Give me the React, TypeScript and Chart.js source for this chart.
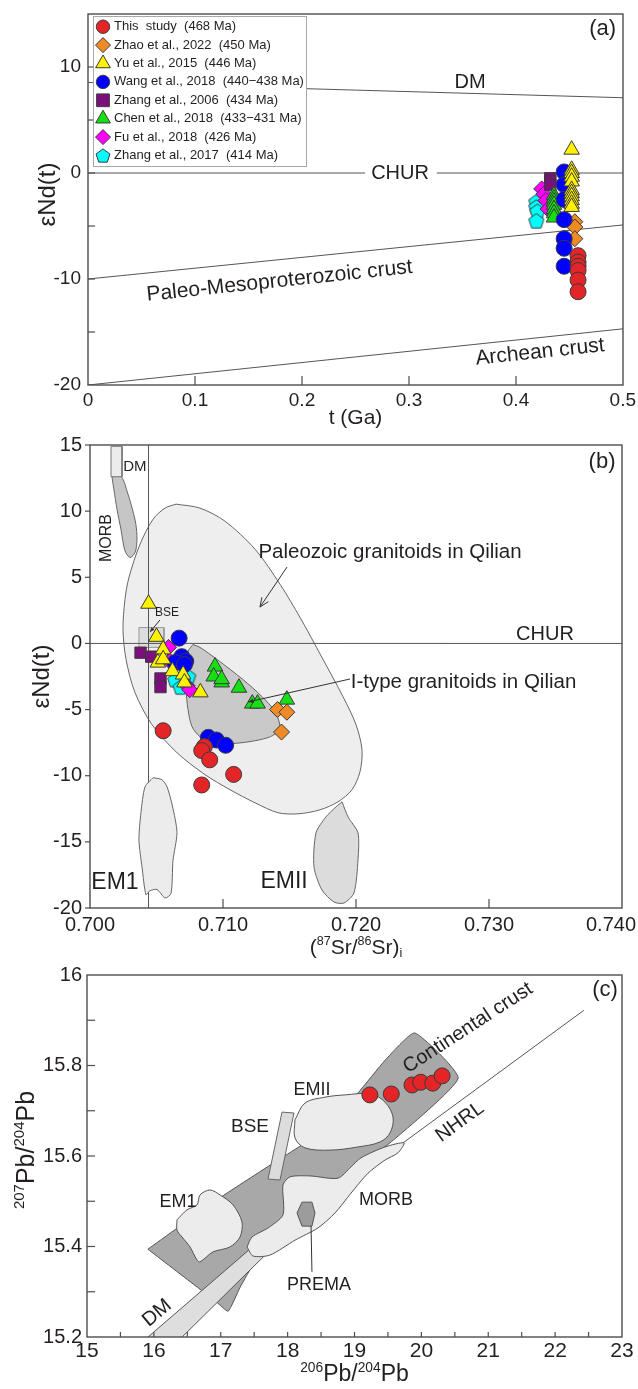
import React, { useEffect, useRef } from "react";
import { Chart, registerables } from "chart.js";

Chart.register(...registerables);

const FONT = 'Arial, "Liberation Sans", Helvetica, sans-serif';
const INK = "#231f20";
const AXIS = "#4d4d4d";
const EDGE = "#3a3a3a";

type P = { x: number; y: number };
type Part = { t: string; sup?: boolean; sub?: boolean };

// ---------------- series (shared legend) ----------------
const SERIES_LABELS = [
  "This  study  (468 Ma)",
  "Zhao et al., 2022  (450 Ma)",
  "Yu et al., 2015  (446 Ma)",
  "Wang et al., 2018  (440\u2212438 Ma)",
  "Zhang et al., 2006  (434 Ma)",
  "Chen et al., 2018  (433\u2212431 Ma)",
  "Fu et al., 2018  (426 Ma)",
  "Zhang et al., 2017  (414 Ma)",
];
const SERIES_COLORS = ["#e42528", "#ef8a25", "#fff200", "#0000ff", "#7b0f7b", "#14e014", "#ff00ff", "#00ffff"];
const SERIES_STYLES = ["circle", "rectRot", "triangle", "circle", "rect", "triangle", "rectRot", "pentagon"];
const DRAW_ORDER = [7, 6, 4, 5, 1, 3, 2, 0];

// ---------------- panel (a): eNd(t) vs t (Ga) ----------------
const A_X_LABELS = [0, 0.1, 0.2, 0.3, 0.4, 0.5];
const A_Y_LABELS = [-20, -10, 0, 10];
const A_X_TICKS = [0.1, 0.2, 0.3, 0.4];
const A_Y_TICKS = [-15, -10, -5, 0, 5, 10];
const A_DM: P[] = [{ x: 0, y: 8.54 }, { x: 0.5, y: 7.1 }];
const A_CHUR_L: P[] = [{ x: 0, y: 0 }, { x: 0.259, y: 0 }];
const A_CHUR_R: P[] = [{ x: 0.326, y: 0 }, { x: 0.5, y: 0 }];
const A_PALEO: P[] = [{ x: 0, y: -10 }, { x: 0.5, y: -4.9 }];
const A_ARCH: P[] = [{ x: 0, y: -20 }, { x: 0.5, y: -14.7 }];

const A_THIS: P[] = [
  { x: 0.458, y: -7.8 }, { x: 0.458, y: -8.4 }, { x: 0.458, y: -8.8 },
  { x: 0.458, y: -9.2 }, { x: 0.458, y: -10.1 }, { x: 0.458, y: -11.2 },
];
const A_ZHAO: P[] = [{ x: 0.455, y: -4.6 }, { x: 0.455, y: -5.1 }, { x: 0.455, y: -6.2 }];
const A_YU: P[] = [
  { x: 0.452, y: 2.2 }, { x: 0.452, y: 0.3 }, { x: 0.452, y: 0.0 }, { x: 0.452, y: -0.35 },
  { x: 0.452, y: -0.8 }, { x: 0.452, y: -1.6 }, { x: 0.452, y: -1.9 }, { x: 0.452, y: -2.2 },
  { x: 0.452, y: -2.55 }, { x: 0.452, y: -2.9 }, { x: 0.452, y: -3.2 },
];
const A_WANG: P[] = [
  { x: 0.445, y: 0.1 }, { x: 0.445, y: -1.1 }, { x: 0.445, y: -2.5 }, { x: 0.445, y: -4.4 },
  { x: 0.445, y: -6.2 }, { x: 0.445, y: -7.1 }, { x: 0.445, y: -8.8 },
];
const A_ZHANG06: P[] = [{ x: 0.432, y: -0.5 }, { x: 0.432, y: -0.8 }, { x: 0.432, y: -1.1 }];
const A_CHEN: P[] = [
  { x: 0.4355, y: -2.1 }, { x: 0.4355, y: -2.4 }, { x: 0.4355, y: -2.7 }, { x: 0.4355, y: -3.0 },
  { x: 0.4355, y: -3.4 }, { x: 0.4355, y: -3.8 }, { x: 0.4355, y: -4.2 },
];
const A_FU: P[] = [{ x: 0.424, y: -1.5 }, { x: 0.426, y: -2.0 }, { x: 0.428, y: -2.6 }, { x: 0.43, y: -3.4 }];
const A_ZHANG17: P[] = [{ x: 0.419, y: -2.7 }, { x: 0.419, y: -3.2 }, { x: 0.42, y: -3.6 }, { x: 0.419, y: -4.5 }];

// ---------------- panel (b): eNd(t) vs (87Sr/86Sr)i ----------------
const B_X_LABELS = [0.7, 0.71, 0.72, 0.73, 0.74];
const B_Y_LABELS = [15, 10, 5, 0, -5, -10, -15, -20];
const B_X_TICKS = [0.71, 0.72, 0.73];
const B_CHUR: P[] = [{ x: 0.7, y: 0 }, { x: 0.74, y: 0 }];
const B_BSE_LINE: P[] = [{ x: 0.7044, y: -20 }, { x: 0.7044, y: 15 }];
const B_PALEOZOIC: P[] = [
  { x: 0.70647, y: 10.53 }, { x: 0.70827, y: 10.23 }, { x: 0.71015, y: 9.24 }, { x: 0.71241, y: 7.12 },
  { x: 0.71429, y: 4.47 }, { x: 0.71579, y: 1.97 }, { x: 0.71744, y: -1.06 }, { x: 0.71902, y: -4.02 },
  { x: 0.72, y: -6.14 }, { x: 0.72045, y: -8.03 }, { x: 0.7203, y: -9.7 }, { x: 0.7197, y: -11.06 },
  { x: 0.71865, y: -11.97 }, { x: 0.71729, y: -12.58 }, { x: 0.71564, y: -12.88 }, { x: 0.71414, y: -12.8 },
  { x: 0.71241, y: -12.05 }, { x: 0.71053, y: -11.06 }, { x: 0.70865, y: -9.92 }, { x: 0.70654, y: -8.26 },
  { x: 0.70466, y: -6.14 }, { x: 0.70338, y: -3.71 }, { x: 0.70271, y: -1.21 }, { x: 0.70248, y: 1.06 },
  { x: 0.70263, y: 3.33 }, { x: 0.70293, y: 5.0 }, { x: 0.70376, y: 7.5 }, { x: 0.70474, y: 9.39 },
  { x: 0.70564, y: 10.23 },
];
const B_ITYPE: P[] = [
  { x: 0.70774, y: -0.08 }, { x: 0.70827, y: -0.3 }, { x: 0.70955, y: -1.21 }, { x: 0.7115, y: -2.73 },
  { x: 0.71293, y: -4.02 }, { x: 0.71391, y: -5.15 }, { x: 0.71429, y: -6.29 }, { x: 0.71406, y: -6.74 },
  { x: 0.71338, y: -7.12 }, { x: 0.71203, y: -7.42 }, { x: 0.71038, y: -7.58 }, { x: 0.70902, y: -7.42 },
  { x: 0.70827, y: -7.05 }, { x: 0.70767, y: -6.29 }, { x: 0.70737, y: -5.0 }, { x: 0.70722, y: -3.48 },
  { x: 0.70722, y: -1.82 }, { x: 0.70737, y: -0.61 },
];
const B_MORB: P[] = [
  { x: 0.70165, y: 12.6 }, { x: 0.70235, y: 12.6 }, { x: 0.70285, y: 11.3 }, { x: 0.7032, y: 10.1 },
  { x: 0.70345, y: 9.0 }, { x: 0.70353, y: 7.9 }, { x: 0.7034, y: 6.9 }, { x: 0.70301, y: 6.5 },
  { x: 0.70263, y: 7.0 }, { x: 0.70233, y: 8.6 }, { x: 0.70203, y: 10.15 }, { x: 0.7018, y: 11.6 },
];
const B_DM: P[] = [{ x: 0.70158, y: 14.9 }, { x: 0.70241, y: 14.9 }, { x: 0.70241, y: 12.6 }, { x: 0.70158, y: 12.6 }];
const B_BSE: P[] = [{ x: 0.70368, y: 1.2 }, { x: 0.70556, y: 1.2 }, { x: 0.70556, y: -0.3 }, { x: 0.70368, y: -0.3 }];
const B_EM1: P[] = [
  { x: 0.70474, y: -10.15 }, { x: 0.7054, y: -10.3 }, { x: 0.70579, y: -10.83 }, { x: 0.7062, y: -12.3 },
  { x: 0.70654, y: -14.3 }, { x: 0.70624, y: -16.4 }, { x: 0.70609, y: -18.9 }, { x: 0.70564, y: -19.24 },
  { x: 0.70504, y: -18.6 }, { x: 0.7045, y: -18.7 }, { x: 0.70421, y: -19.0 }, { x: 0.70391, y: -16.9 },
  { x: 0.70368, y: -14.85 }, { x: 0.70383, y: -12.8 }, { x: 0.70414, y: -10.83 },
];
const B_EM2: P[] = [
  { x: 0.71895, y: -11.97 }, { x: 0.7194, y: -13.11 }, { x: 0.72015, y: -14.32 }, { x: 0.72015, y: -16.36 },
  { x: 0.71985, y: -18.86 }, { x: 0.7191, y: -19.62 }, { x: 0.71835, y: -19.55 }, { x: 0.71744, y: -18.64 },
  { x: 0.71684, y: -16.89 }, { x: 0.71699, y: -14.32 }, { x: 0.71774, y: -13.11 }, { x: 0.7185, y: -12.35 },
];

const B_THIS: P[] = [
  { x: 0.7055, y: -6.6 }, { x: 0.7086, y: -7.8 }, { x: 0.7084, y: -8.1 },
  { x: 0.709, y: -8.8 }, { x: 0.7108, y: -9.9 }, { x: 0.7084, y: -10.7 },
];
const B_ZHAO: P[] = [{ x: 0.7141, y: -5.0 }, { x: 0.7148, y: -5.2 }, { x: 0.7144, y: -6.7 }];
const B_YU: P[] = [
  { x: 0.7044, y: 3.0 }, { x: 0.705, y: 0.5 }, { x: 0.7055, y: -0.45 }, { x: 0.7051, y: -1.45 },
  { x: 0.7055, y: -1.2 }, { x: 0.7062, y: -2.1 }, { x: 0.707, y: -2.35 }, { x: 0.7071, y: -2.95 },
  { x: 0.7083, y: -3.7 },
];
const B_WANG: P[] = [
  { x: 0.7067, y: 0.4 }, { x: 0.7069, y: -1.0 }, { x: 0.7072, y: -1.35 }, { x: 0.7064, y: -1.45 },
  { x: 0.7071, y: -1.6 }, { x: 0.7089, y: -7.1 }, { x: 0.7095, y: -7.3 }, { x: 0.7102, y: -7.7 },
];
const B_ZHANG06: P[] = [{ x: 0.7038, y: -0.7 }, { x: 0.7046, y: -1.0 }, { x: 0.7053, y: -2.65 }, { x: 0.7053, y: -3.3 }];
const B_CHEN: P[] = [
  { x: 0.7094, y: -1.75 }, { x: 0.7093, y: -2.5 }, { x: 0.7099, y: -2.95 }, { x: 0.7099, y: -2.7 },
  { x: 0.7112, y: -3.35 }, { x: 0.7122, y: -4.55 }, { x: 0.7126, y: -4.55 }, { x: 0.7148, y: -4.25 },
];
const B_FU: P[] = [{ x: 0.7059, y: -0.3 }, { x: 0.706, y: -1.35 }, { x: 0.7073, y: -3.2 }, { x: 0.7075, y: -3.5 }];
const B_ZHANG17: P[] = [{ x: 0.7064, y: -2.75 }, { x: 0.7068, y: -3.3 }, { x: 0.7074, y: -2.5 }];

// ---------------- panel (c): 207Pb/204Pb vs 206Pb/204Pb ----------------
const C_X_LABELS = [15, 16, 17, 18, 19, 20, 21, 22, 23];
const C_Y_LABELS = [15.2, 15.4, 15.6, 15.8, 16];
const C_X_TICKS = [15.5, 16, 16.5, 17, 17.5, 18, 18.5, 19, 19.5, 20, 20.5, 21, 21.5, 22, 22.5];
const C_Y_TICKS = [15.3, 15.4, 15.5, 15.6, 15.7, 15.8, 15.9];
const C_NHRL: P[] = [{ x: 18.6, y: 15.507 }, { x: 22.43, y: 15.922 }];
const C_CRUST: P[] = [
  { x: 15.91, y: 15.394 }, { x: 16.94, y: 15.503 }, { x: 17.74, y: 15.58 }, { x: 18.48, y: 15.651 },
  { x: 19.05, y: 15.739 }, { x: 19.46, y: 15.812 }, { x: 19.9, y: 15.872 }, { x: 20.55, y: 15.772 },
  { x: 19.58, y: 15.635 }, { x: 18.78, y: 15.547 }, { x: 18.04, y: 15.454 }, { x: 17.51, y: 15.366 },
  { x: 17.29, y: 15.31 }, { x: 17.11, y: 15.257 }, { x: 16.94, y: 15.277 }, { x: 16.65, y: 15.31 },
];
const C_DM: P[] = [{ x: 15.52, y: 15.15 }, { x: 16.08, y: 15.15 }, { x: 17.89, y: 15.414 }, { x: 17.56, y: 15.41 }];
const C_MORB: P[] = [
  { x: 17.393, y: 15.399 }, { x: 17.467, y: 15.421 }, { x: 17.707, y: 15.441 }, { x: 17.931, y: 15.47 },
  { x: 17.931, y: 15.536 }, { x: 18.036, y: 15.554 }, { x: 18.335, y: 15.556 }, { x: 18.753, y: 15.551 },
  { x: 18.948, y: 15.576 }, { x: 19.097, y: 15.596 }, { x: 19.456, y: 15.62 }, { x: 19.74, y: 15.629 },
  { x: 19.65, y: 15.607 }, { x: 19.456, y: 15.591 }, { x: 19.202, y: 15.562 }, { x: 18.948, y: 15.518 },
  { x: 18.708, y: 15.474 }, { x: 18.454, y: 15.441 }, { x: 18.11, y: 15.414 }, { x: 17.736, y: 15.381 },
  { x: 17.482, y: 15.379 },
];
const C_EM2: P[] = [
  { x: 18.11, y: 15.68 }, { x: 18.26, y: 15.717 }, { x: 18.559, y: 15.73 }, { x: 18.858, y: 15.735 },
  { x: 19.247, y: 15.737 }, { x: 19.456, y: 15.719 }, { x: 19.576, y: 15.686 }, { x: 19.531, y: 15.651 },
  { x: 19.381, y: 15.631 }, { x: 19.052, y: 15.62 }, { x: 18.634, y: 15.613 }, { x: 18.26, y: 15.618 },
  { x: 18.11, y: 15.64 },
];
const C_EM1: P[] = [
  { x: 16.346, y: 15.459 }, { x: 16.495, y: 15.481 }, { x: 16.645, y: 15.492 }, { x: 16.69, y: 15.514 },
  { x: 16.839, y: 15.525 }, { x: 16.989, y: 15.514 }, { x: 17.183, y: 15.492 }, { x: 17.318, y: 15.454 },
  { x: 17.288, y: 15.421 }, { x: 17.138, y: 15.399 }, { x: 16.884, y: 15.388 }, { x: 16.69, y: 15.366 },
  { x: 16.645, y: 15.37 }, { x: 16.54, y: 15.399 }, { x: 16.421, y: 15.421 }, { x: 16.346, y: 15.436 },
];
const C_BSE: P[] = [{ x: 17.916, y: 15.697 }, { x: 18.095, y: 15.695 }, { x: 17.886, y: 15.547 }, { x: 17.707, y: 15.549 }];
const C_PREMA: P[] = [
  { x: 18.14, y: 15.474 }, { x: 18.215, y: 15.498 }, { x: 18.364, y: 15.498 },
  { x: 18.409, y: 15.474 }, { x: 18.364, y: 15.445 }, { x: 18.215, y: 15.445 },
];
const C_THIS: P[] = [
  { x: 19.23, y: 15.735 }, { x: 19.55, y: 15.737 }, { x: 19.86, y: 15.757 },
  { x: 19.99, y: 15.763 }, { x: 20.17, y: 15.761 }, { x: 20.31, y: 15.777 },
];

// ---------------- drawing helpers ----------------
function pentPath(g: CanvasRenderingContext2D, cx: number, cy: number, r: number) {
  g.beginPath();
  for (let i = 0; i < 5; i++) {
    const a = -Math.PI / 2 + (i * 2 * Math.PI) / 5;
    const px = cx + r * Math.cos(a);
    const py = cy + r * Math.sin(a);
    if (i === 0) g.moveTo(px, py);
    else g.lineTo(px, py);
  }
  g.closePath();
}

function pentagonCanvas(r: number, fill: string, stroke: string) {
  const size = Math.ceil(r * 2 + 4);
  const c = document.createElement("canvas");
  c.width = size;
  c.height = size;
  const g = c.getContext("2d")!;
  pentPath(g, size / 2, size / 2 + r * 0.1, r);
  g.fillStyle = fill;
  g.fill();
  g.strokeStyle = stroke;
  g.lineWidth = 1;
  g.stroke();
  return c;
}

function drawMarker(ctx: CanvasRenderingContext2D, style: string, x: number, y: number, r: number, fill: string) {
  ctx.beginPath();
  if (style === "circle") ctx.arc(x, y, r, 0, Math.PI * 2);
  else if (style === "rectRot") {
    ctx.moveTo(x - r, y); ctx.lineTo(x, y - r); ctx.lineTo(x + r, y); ctx.lineTo(x, y + r); ctx.closePath();
  } else if (style === "triangle") {
    ctx.moveTo(x, y - r); ctx.lineTo(x + 0.866 * r, y + 0.5 * r); ctx.lineTo(x - 0.866 * r, y + 0.5 * r); ctx.closePath();
  } else if (style === "rect") {
    const h = r * Math.SQRT1_2;
    ctx.rect(x - h, y - h, 2 * h, 2 * h);
  } else pentPath(ctx, x, y + r * 0.1, r);
  ctx.fillStyle = fill;
  ctx.fill();
  ctx.strokeStyle = EDGE;
  ctx.lineWidth = 1;
  ctx.stroke();
}

function richWidth(ctx: CanvasRenderingContext2D, parts: Part[], size: number) {
  let w = 0;
  for (const p of parts) {
    const s = p.sup || p.sub ? size * 0.6 : size;
    ctx.font = `${s}px ${FONT}`;
    w += ctx.measureText(p.t).width;
  }
  return w;
}

function drawRich(ctx: CanvasRenderingContext2D, parts: Part[], size: number, x: number, y: number, rot = 0, align = "center") {
  ctx.save();
  ctx.translate(x, y);
  ctx.rotate((rot * Math.PI) / 180);
  const w = richWidth(ctx, parts, size);
  let cx = align === "center" ? -w / 2 : align === "right" ? -w : 0;
  ctx.textAlign = "left";
  ctx.textBaseline = "middle";
  ctx.fillStyle = INK;
  for (const p of parts) {
    const s = p.sup || p.sub ? size * 0.6 : size;
    ctx.font = `${s}px ${FONT}`;
    const dy = p.sup ? -size * 0.3 : p.sub ? size * 0.28 : 0;
    ctx.fillText(p.t, cx, dy);
    cx += ctx.measureText(p.t).width;
  }
  ctx.restore();
}

function drawArrow(ctx: CanvasRenderingContext2D, x1: number, y1: number, x2: number, y2: number, head: number, open: boolean) {
  ctx.save();
  ctx.strokeStyle = "#333";
  ctx.fillStyle = "#333";
  ctx.lineWidth = 1;
  ctx.beginPath();
  ctx.moveTo(x1, y1);
  ctx.lineTo(x2, y2);
  ctx.stroke();
  if (head > 0) {
    const a = Math.atan2(y2 - y1, x2 - x1);
    const s = 0.4;
    const ax = x2 - head * Math.cos(a - s), ay = y2 - head * Math.sin(a - s);
    const bx = x2 - head * Math.cos(a + s), by = y2 - head * Math.sin(a + s);
    ctx.beginPath();
    if (open) {
      ctx.moveTo(ax, ay); ctx.lineTo(x2, y2); ctx.lineTo(bx, by); ctx.stroke();
    } else {
      ctx.moveTo(ax, ay); ctx.lineTo(x2, y2); ctx.lineTo(bx, by); ctx.closePath(); ctx.fill();
    }
  }
  ctx.restore();
}

// ---------------- dataset builders ----------------
function lineDs(data: P[], color = "#555", width = 1) {
  return { type: "line", data, borderColor: color, borderWidth: width, pointRadius: 0, fill: false, tension: 0 };
}
function polyDs(data: P[], fill: string, tension = 0, stroke = "#555") {
  return {
    type: "line", data: [...data, data[0]], borderColor: stroke, borderWidth: 1,
    backgroundColor: fill, fill: "shape", pointRadius: 0, tension,
  };
}
function pointSets(data: P[][], sizes: Record<string, number>) {
  return DRAW_ORDER.filter((i) => data[i] && data[i].length).map((i) => {
    const style = SERIES_STYLES[i];
    const r = sizes[style];
    return {
      type: "line", label: SERIES_LABELS[i], data: data[i], showLine: false,
      pointStyle: style === "pentagon" ? pentagonCanvas(r, SERIES_COLORS[i], EDGE) : style,
      pointRadius: r, pointHoverRadius: r, pointBackgroundColor: SERIES_COLORS[i],
      pointBorderColor: EDGE, pointBorderWidth: 1,
    };
  });
}
function ordered(list: any[]) {
  return list.map((d, i) => ({ ...d, order: list.length - i }));
}

const T = (t: string): Part[] => [{ t }];

// ---------------- panel configs ----------------
const PANELS: any[] = [
  {
    id: "a", top: 0, height: 435,
    padding: { left: 88, right: 15, top: 14, bottom: 50 },
    xr: [0, 0.5], yr: [-20, 15],
    build: () => ordered([
      lineDs(A_DM), lineDs(A_CHUR_L), lineDs(A_CHUR_R), lineDs(A_PALEO), lineDs(A_ARCH),
      ...pointSets([A_THIS, A_ZHAO, A_YU, A_WANG, A_ZHANG06, A_CHEN, A_FU, A_ZHANG17],
        { circle: 8, rectRot: 8, triangle: 9, rect: 8, pentagon: 8 }),
    ]),
    ticks: [
      { axis: "x", values: A_X_TICKS, len: 9 },
      { axis: "y", values: A_Y_TICKS, len: 7 },
    ],
    labels: [
      { axis: "x", values: A_X_LABELS, fmt: (v: number) => String(v), size: 19, gap: 16 },
      { axis: "y", values: A_Y_LABELS, fmt: (v: number) => String(v), size: 19, gap: 7 },
    ],
    titles: [
      { axis: "x", parts: T("t (Ga)"), size: 21, pos: 33 },
      { axis: "y", parts: T("\u03b5Nd(t)"), size: 24, pos: 48, dy: -5 },
    ],
    texts: [
      { x: 0.357, y: 8.5, parts: T("DM"), size: 20 },
      { x: 0.2916, y: -0.05, parts: T("CHUR"), size: 20 },
      { x: 0.481, y: 13.55, parts: T("(a)"), size: 22 },
      { x: 0.179, y: -10.2, parts: T("Paleo-Mesoproterozoic crust"), size: 21, rot: -6 },
      { x: 0.4224, y: -16.9, parts: T("Archean crust"), size: 21, rot: -6 },
    ],
    arrows: [],
    legend: true,
  },
  {
    id: "b", top: 435, height: 525,
    padding: { left: 90, right: 16, top: 10, bottom: 52 },
    xr: [0.7, 0.74], yr: [-20, 15],
    build: () => ordered([
      polyDs(B_PALEOZOIC, "#eeeeee", 0.3, "#666"),
      polyDs(B_ITYPE, "#c9c9c9", 0.3, "#666"),
      polyDs(B_MORB, "#c6c6c6", 0.3, "#666"),
      polyDs(B_DM, "#ececec", 0, "#777"),
      polyDs(B_BSE, "#dddddd", 0, "#999"),
      lineDs(B_CHUR, "#555", 1),
      lineDs(B_BSE_LINE, "#555", 1),
      polyDs(B_EM1, "#ececec", 0.25, "#666"),
      polyDs(B_EM2, "#dcdcdc", 0.25, "#666"),
      ...pointSets([B_THIS, B_ZHAO, B_YU, B_WANG, B_ZHANG06, B_CHEN, B_FU, B_ZHANG17],
        { circle: 8, rectRot: 8, triangle: 9, rect: 8, pentagon: 7.8 }),
    ]),
    ticks: [
      { axis: "x", values: B_X_TICKS, len: 9 },
      { axis: "y", values: B_Y_LABELS, len: 5, out: true },
    ],
    labels: [
      { axis: "x", values: B_X_LABELS, fmt: (v: number) => v.toFixed(3), size: 20, gap: 17 },
      { axis: "y", values: B_Y_LABELS, fmt: (v: number) => String(v), size: 20, gap: 8 },
    ],
    titles: [
      {
        axis: "x", size: 21, pos: 40,
        parts: [{ t: "(" }, { t: "87", sup: true }, { t: "Sr/" }, { t: "86", sup: true }, { t: "Sr)" }, { t: "i", sub: true }],
      },
      { axis: "y", parts: T("\u03b5Nd(t)"), size: 24, pos: 42, dy: 0 },
    ],
    texts: [
      { x: 0.70338, y: 13.35, parts: T("DM"), size: 15 },
      { x: 0.70128, y: 7.97, parts: T("MORB"), size: 16, rot: -90 },
      { x: 0.70579, y: 2.3, parts: T("BSE"), size: 12 },
      { x: 0.72256, y: 6.9, parts: T("Paleozoic granitoids in Qilian"), size: 20.5 },
      { x: 0.73421, y: 0.7, parts: T("CHUR"), size: 20 },
      { x: 0.7196, y: -2.92, parts: T("I-type granitoids in Qilian"), size: 20.5, align: "left" },
      { x: 0.7385, y: 13.7, parts: T("(b)"), size: 22 },
      { x: 0.70188, y: -18.1, parts: T("EM1"), size: 23 },
      { x: 0.71459, y: -18.0, parts: T("EMII"), size: 23 },
    ],
    arrows: [
      { x1: 0.71481, y1: 5.77, x2: 0.71278, y2: 2.75, head: 10, open: true },
      { x1: 0.70526, y1: 1.77, x2: 0.70451, y2: 0.86, head: 5 },
      { x1: 0.71955, y1: -2.69, x2: 0.71188, y2: -4.43, head: 6 },
    ],
  },
  {
    id: "c", top: 960, height: 429,
    padding: { left: 87, right: 16, top: 15, bottom: 52 },
    xr: [15, 23], yr: [15.2, 16],
    build: () => ordered([
      polyDs(C_CRUST, "#a8a8a8", 0.15, "#555"),
      lineDs(C_NHRL, "#555", 1),
      polyDs(C_DM, "#dedede", 0, "#555"),
      polyDs(C_MORB, "#ececec", 0.25, "#555"),
      polyDs(C_EM2, "#ececec", 0.35, "#555"),
      polyDs(C_EM1, "#ececec", 0.3, "#555"),
      polyDs(C_BSE, "#dcdcdc", 0, "#666"),
      polyDs(C_PREMA, "#9c9c9c", 0, "#555"),
      ...pointSets([C_THIS], { circle: 8 }),
    ]),
    ticks: [
      { axis: "x", values: C_X_TICKS, len: 5 },
      { axis: "y", values: C_Y_TICKS, len: 8 },
    ],
    labels: [
      { axis: "x", values: C_X_LABELS, fmt: (v: number) => String(v), size: 21, gap: 14 },
      { axis: "y", values: C_Y_LABELS, fmt: (v: number) => (v === 16 ? "16" : v.toFixed(1)), size: 20, gap: 5 },
    ],
    titles: [
      {
        axis: "x", size: 23, pos: 38,
        parts: [{ t: "206", sup: true }, { t: "Pb/" }, { t: "204", sup: true }, { t: "Pb" }],
      },
      {
        axis: "y", size: 25, pos: 27, dy: -6,
        parts: [{ t: "207", sup: true }, { t: "Pb/" }, { t: "204", sup: true }, { t: "Pb" }],
      },
    ],
    texts: [
      { x: 20.697, y: 15.883, parts: T("Continental crust"), size: 20, rot: -33 },
      { x: 20.577, y: 15.675, parts: T("NHRL"), size: 20, rot: -36 },
      { x: 19.471, y: 15.503, parts: T("MORB"), size: 18 },
      { x: 18.364, y: 15.746, parts: T("EMII"), size: 18 },
      { x: 17.437, y: 15.664, parts: T("BSE"), size: 19 },
      { x: 16.361, y: 15.498, parts: T("EM1"), size: 18 },
      { x: 16.047, y: 15.253, parts: T("DM"), size: 20, rot: -40 },
      { x: 18.469, y: 15.315, parts: T("PREMA"), size: 18 },
      { x: 22.746, y: 15.967, parts: T("(c)"), size: 22 },
    ],
    arrows: [{ x1: 18.35, y1: 15.445, x2: 18.364, y2: 15.344, head: 0 }],
  },
];

function decorPlugin(cfg: any) {
  return {
    id: "decor_" + cfg.id,
    afterDatasetsDraw(chart: any) {
      const ctx: CanvasRenderingContext2D = chart.ctx;
      const xs = chart.scales.x, ys = chart.scales.y;
      for (const a of cfg.arrows) {
        drawArrow(ctx, xs.getPixelForValue(a.x1), ys.getPixelForValue(a.y1),
          xs.getPixelForValue(a.x2), ys.getPixelForValue(a.y2), a.head, !!a.open);
      }
      for (const t of cfg.texts) {
        drawRich(ctx, t.parts, t.size, xs.getPixelForValue(t.x), ys.getPixelForValue(t.y), t.rot || 0, t.align || "center");
      }
    },
    afterDraw(chart: any) {
      const ctx: CanvasRenderingContext2D = chart.ctx;
      const a = chart.chartArea;
      const xs = chart.scales.x, ys = chart.scales.y;
      const W = chart.width;
      ctx.save();
      ctx.strokeStyle = AXIS;
      ctx.lineWidth = 1.4;
      ctx.strokeRect(a.left, a.top, a.right - a.left, a.bottom - a.top);
      ctx.lineWidth = 1.2;
      for (const tk of cfg.ticks) {
        for (const v of tk.values) {
          ctx.beginPath();
          if (tk.axis === "x") {
            const px = xs.getPixelForValue(v);
            ctx.moveTo(px, a.bottom);
            ctx.lineTo(px, tk.out ? a.bottom + tk.len : a.bottom - tk.len);
          } else {
            const py = ys.getPixelForValue(v);
            ctx.moveTo(a.left, py);
            ctx.lineTo(tk.out ? a.left - tk.len : a.left + tk.len, py);
          }
          ctx.stroke();
        }
      }
      ctx.fillStyle = INK;
      ctx.textBaseline = "middle";
      for (const lb of cfg.labels) {
        ctx.font = `${lb.size}px ${FONT}`;
        for (const v of lb.values) {
          const s = lb.fmt(v);
          if (lb.axis === "x") {
            const w = ctx.measureText(s).width;
            let cx = xs.getPixelForValue(v);
            cx = Math.min(cx, W - 2 - w / 2);
            ctx.textAlign = "center";
            ctx.fillText(s, cx, a.bottom + lb.gap);
          } else {
            ctx.textAlign = "right";
            ctx.fillText(s, a.left - lb.gap, ys.getPixelForValue(v));
          }
        }
      }
      for (const tt of cfg.titles) {
        if (tt.axis === "x") drawRich(ctx, tt.parts, tt.size, (a.left + a.right) / 2, a.bottom + tt.pos, 0);
        else drawRich(ctx, tt.parts, tt.size, tt.pos, (a.top + a.bottom) / 2 + (tt.dy || 0), -90);
      }
      if (cfg.legend) {
        const lx = a.left + 5, ly = a.top + 2, lw = 213, lh = 150;
        ctx.fillStyle = "#ffffff";
        ctx.fillRect(lx, ly, lw, lh);
        ctx.strokeStyle = "#a8a8a8";
        ctx.lineWidth = 1;
        ctx.strokeRect(lx + 0.5, ly + 0.5, lw, lh);
        const lr: Record<string, number> = { circle: 6.7, rectRot: 7.5, triangle: 8.5, rect: 9, pentagon: 7.3 };
        SERIES_LABELS.forEach((lab, i) => {
          const cy = ly + 10.7 + i * 18.4;
          drawMarker(ctx, SERIES_STYLES[i], lx + 10, cy, lr[SERIES_STYLES[i]], SERIES_COLORS[i]);
          ctx.fillStyle = INK;
          ctx.font = `13px ${FONT}`;
          ctx.textAlign = "left";
          ctx.textBaseline = "middle";
          ctx.fillText(lab, lx + 21, cy);
        });
      }
      ctx.restore();
    },
  };
}

function Panel({ cfg }: { cfg: any }) {
  const ref = useRef<HTMLCanvasElement | null>(null);
  useEffect(() => {
    if (!ref.current) return;
    const chart = new Chart(ref.current, {
      type: "line",
      data: { datasets: cfg.build() },
      options: {
        animation: false,
        responsive: false,
        devicePixelRatio: 1,
        events: [],
        layout: { padding: cfg.padding },
        plugins: { legend: { display: false }, tooltip: { enabled: false } },
        scales: {
          x: { type: "linear", display: false, min: cfg.xr[0], max: cfg.xr[1] },
          y: { type: "linear", display: false, min: cfg.yr[0], max: cfg.yr[1] },
        },
      },
      plugins: [decorPlugin(cfg)],
    } as any);
    return () => chart.destroy();
  }, [cfg]);
  return (
    <canvas
      ref={ref}
      width={638}
      height={cfg.height}
      style={{ position: "absolute", left: 0, top: cfg.top, width: 638, height: cfg.height, display: "block" }}
    />
  );
}

export default function App() {
  return (
    <div style={{ position: "absolute", left: 0, top: 0, width: 638, height: 1389, background: "#ffffff", overflow: "hidden" }}>
      {PANELS.map((p) => (
        <Panel key={p.id} cfg={p} />
      ))}
    </div>
  );
}
